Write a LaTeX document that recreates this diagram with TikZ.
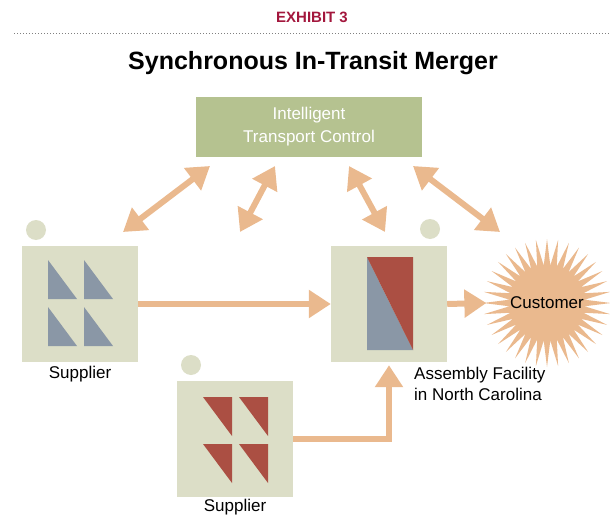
\documentclass[tikz,border=0pt]{standalone}
\usepackage{fontspec}
\setmainfont{Liberation Sans}
\usetikzlibrary{arrows.meta,shapes.geometric,positioning}
\definecolor{exhibitred}{HTML}{A3173D}
\definecolor{boxbeige}{HTML}{DCDEC7}
\definecolor{ctrlgreen}{HTML}{B5C290}
\definecolor{flow}{HTML}{EAB98E}
\definecolor{slate}{HTML}{8A97A6}
\definecolor{brick}{HTML}{AB4F43}
\tikzset{
  site/.style={fill=boxbeige, minimum width=116pt, minimum height=116pt, inner sep=0pt},
  dot/.style={circle, fill=boxbeige, minimum size=20pt, inner sep=0pt},
  lbl/.style={font=\fontsize{17}{21}\selectfont, inner sep=1pt},
  burst/.style={star, star points=36, star point ratio=1.7, fill=flow, inner sep=0pt, minimum size=128pt},
  flowline/.style={draw=flow, line width=6pt, -{Triangle[length=22pt,width=27pt]}},
  twoway/.style={draw=flow, line width=6pt, {Triangle[length=22pt,width=27pt]}-{Triangle[length=22pt,width=27pt]}}
}
\begin{document}
\begin{tikzpicture}[x=1pt, y=-1pt]
  \useasboundingbox (0,0) rectangle (610,516);
  \node[text=exhibitred, font=\bfseries\fontsize{15}{17}\selectfont] (exhibit) at (312,17) {EXHIBIT 3};
  \draw[gray, line width=1pt, dotted] (14,34) -- (610,34);
  \node[font=\bfseries\fontsize{25}{28}\selectfont] (title) at (313,63) {Synchronous In-Transit Merger};
  % control box
  \node[fill=ctrlgreen, minimum width=226pt, minimum height=60pt, text=white, align=center,
        font=\fontsize{17}{23}\selectfont] (itc) at (309,127) {Intelligent\\Transport Control};
  % sites
  \node[site] (sup1) at (80,304) {};
  \node[site] (sup2) at (235,439) {};
  \node[site] (asm) at (389,304) {};
  \node[dot] (dot1) at (36,230) {};
  \node[dot] (dot2) at (191,365) {};
  \node[dot] (dot3) at (430,229) {};
  \foreach \x in {48,84} \foreach \y in {260,307}
    \fill[slate] (\x,\y) -- (\x,\y+39) -- (\x+29,\y+39) -- cycle;
  \foreach \x in {203,239} \foreach \y in {397,444}
    \fill[brick] (\x,\y) -- (\x+29,\y) -- (\x+29,\y+39) -- cycle;
  \fill[slate] (367,257) -- (367,350) -- (413,350) -- cycle;
  \fill[brick] (367,257) -- (413,257) -- (413,350) -- cycle;
  \node[lbl, below=3pt of sup1] (sup1lbl) {Supplier};
  \node[lbl, below=1pt of sup2] (sup2lbl) {Supplier};
  \node[lbl, anchor=north west, align=left] (asmlbl) at (413,366) {Assembly Facility\\in North Carolina};
  % customer
  \node[burst] (cust) at (547,303) {};
  \node[lbl] (custlbl) at (cust) {Customer};
  % flows
  \draw[flowline] (sup1.east) -- (asm.west);
  \draw[flowline] (asm.east) -- ([xshift=5pt]cust.west);
  \draw[flowline, shorten >=3pt] (sup2.east) -| (asm.south);
  % links to control
  \coordinate (c1) at (123,232); \coordinate (t1) at (210,166);
  \coordinate (c2) at (240,232); \coordinate (t2) at (275,166);
  \coordinate (t3) at (349,166); \coordinate (c3) at (385,232);
  \coordinate (t4) at (413,166); \coordinate (c4) at (500,232);
  \foreach \i in {1,...,4} \draw[twoway] (c\i) -- (t\i);
\end{tikzpicture}
\end{document}
